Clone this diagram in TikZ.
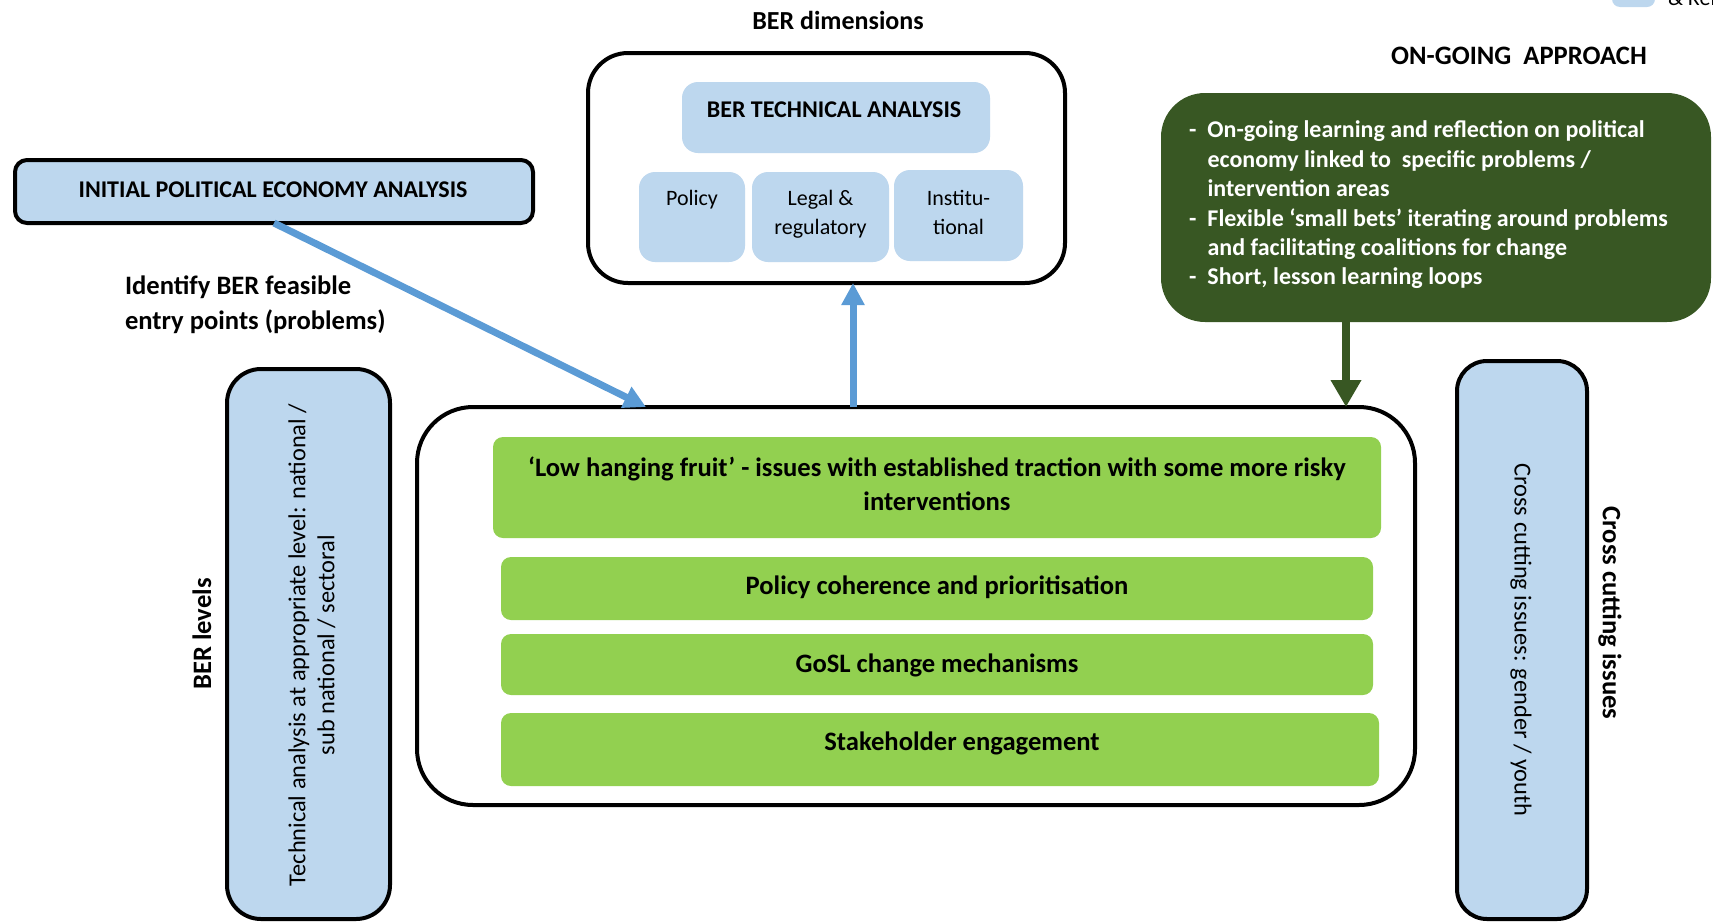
\documentclass[tikz,border=0pt]{standalone}
\usepackage{fontspec}
\setmainfont{Carlito}
\usetikzlibrary{fit,calc,arrows.meta}
\definecolor{lblue}{HTML}{BDD7EE}
\definecolor{ablue}{HTML}{5B9BD5}
\definecolor{lgreen}{HTML}{92D050}
\definecolor{dgreen}{HTML}{385723}
\newcommand{\setfs}[2]{\fontsize{#1}{#2}\selectfont}
\begin{document}
\begin{tikzpicture}[x=0.5pt,y=-0.5pt,
  blk/.style={draw=black,line width=2pt},
  fbox/.style={inner sep=0pt,outer sep=0pt},
  txt/.style={inner sep=0pt,outer sep=0pt,text=black},
  rfs/.style={font=\setfs{11pt}{14.5pt}},
  bfs/.style={font=\setfs{12pt}{14.7pt}\bfseries},
  gfs/.style={font=\setfs{13.3pt}{17pt}\bfseries},
  sfs/.style={font=\setfs{13.3pt}{17.5pt}\bfseries},
  lfs/.style={font=\setfs{12.2pt}{14.5pt}},
  barrow/.style={draw=ablue,line width=3.5pt,-{Triangle[length=11pt,width=11pt]}},
  garrow/.style={draw=dgreen,line width=4pt,-{Triangle[length=13.5pt,width=14.5pt]}},
  gbar/.style={fbox,fill=lgreen,rounded corners=5pt},
  sbox/.style={fbox,fill=lblue,rounded corners=8pt}
]
\useasboundingbox (0,0) rectangle (1713,922);

% legend fragment (top right, cut by page edge)
\node[fbox,fill=lblue,rounded corners=4pt,fit={(1612,-20) (1655,7)}] (leg) {};
\node[txt,rfs,anchor=base west] (legt) at (1668,5) {\& Reflection};

% BER dimensions
\node[txt,font=\setfs{13pt}{15pt}\bfseries] (dimtitle) at (838,20) {BER dimensions};
\node[fbox,blk,fill=white,rounded corners=20pt,fit={(588,53) (1065,283)}] (dim) {};
\node[sbox,fit={(682,82) (990,153)}] (tech) {};
\node[txt,bfs] (techt) at (834,110) {BER TECHNICAL ANALYSIS};
\node[sbox,fit={(639,172) (745,262)}] (pol) {};
\node[txt,rfs] (polt) at (692,200) {Policy};
\node[sbox,fit={(752,172) (889,262)}] (leg2) {};
\node[txt,rfs,align=center] (legal) at (820.5,214) {Legal \&\\regulatory};
\node[sbox,fit={(894,170) (1023,261)}] (inst) {};
\node[txt,rfs,align=center] (instt) at (958.5,212) {Institu-\\tional};

% Initial PEA
\node[fbox,blk,fill=lblue,rounded corners=6pt,fit={(15,160) (533,223)}] (pea) {};
\node[txt,bfs] (peat) at (273,190) {INITIAL POLITICAL ECONOMY ANALYSIS};
\node[txt,sfs,anchor=west,align=left] (ident) at (125,305) {Identify BER feasible\\entry points (problems)};

% ON-GOING approach
\node[txt,font=\setfs{13.3pt}{15pt}\bfseries] (ongt) at (1519,56) {ON-GOING \ APPROACH};
\node[fbox,fill=dgreen,rounded corners=22pt,fit={(1161,93) (1711,322)}] (ong) {};
\node[txt,bfs,text=white,anchor=west,align=left] (ongx) at (1189,205)
 {\makebox[9.25pt][l]{-}On-going learning and reflection on political\\
  \hspace*{9.25pt}economy linked to\ \ specific problems /\\
  \hspace*{9.25pt}intervention areas\\
  \makebox[9.25pt][l]{-}Flexible ‘small bets’ iterating around problems\\
  \hspace*{9.25pt}and facilitating coalitions for change\\
  \makebox[9.25pt][l]{-}Short, lesson learning loops};

% BER levels
\node[txt,sfs,rotate=90] (levt) at (202,634) {BER levels};
\node[fbox,blk,fill=lblue,rounded corners=17pt,fit={(227,369) (390,919)}] (lev) {};
\node[txt,lfs,rotate=90,align=center] (levx) at (312,645)
 {Technical analysis at appropriate level: national /\\sub national / sectoral};

% Cross cutting
\node[fbox,blk,fill=lblue,rounded corners=15pt,fit={(1457,361) (1587,919)}] (cross) {};
\node[txt,lfs,rotate=-90] (crossx) at (1521,640) {Cross cutting issues: gender / youth};
\node[txt,sfs,rotate=-90] (crosst) at (1610,613) {Cross cutting issues};

% main box
\node[fbox,blk,fill=white,rounded corners=28pt,fit={(417,407) (1415,805)}] (main) {};
\node[gbar,fit={(493,437) (1381,538)}] (b1) {};
\node[txt,gfs,align=center] (b1t) at (937,484)
 {‘Low hanging fruit’ - issues with established traction with some more risky\\interventions};
\node[gbar,fit={(501,557) (1373,620)}] (b2) {};
\node[txt,gfs] (b2t) at (937,587) {Policy coherence and prioritisation};
\node[gbar,fit={(501,634) (1373,695)}] (b3) {};
\node[txt,gfs] (b3t) at (937,665) {GoSL change mechanisms};
\node[gbar,fit={(501,713) (1379,786)}] (b4) {};
\node[txt,gfs] (b4t) at (962,743) {Stakeholder engagement};

% connectors
\coordinate (ex1) at (646,0);
\coordinate (ex2) at (853,0);
\coordinate (ex3) at (1346,0);
\draw[barrow] (pea.south) -- (main.north -| ex1);
\draw[barrow] (main.north -| ex2) -- (dim.south -| ex2);
\draw[garrow] (ong.south -| ex3) -- (main.north -| ex3);
\end{tikzpicture}
\end{document}
